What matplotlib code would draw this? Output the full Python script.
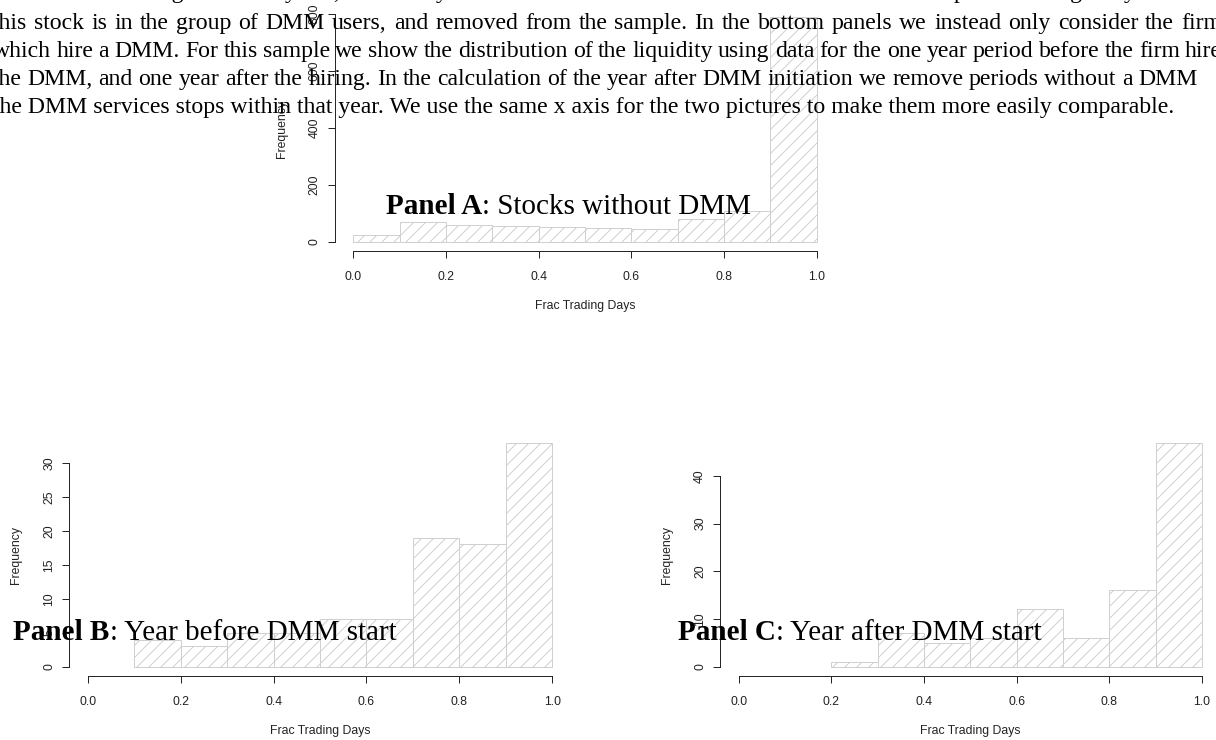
"""
Histograms of the fraction of trading days: stocks without a DMM (top),
and the year before / after a DMM is hired (bottom), on a page of text.
"""
import matplotlib
matplotlib.use("Agg")
import matplotlib.pyplot as plt

W, H, DPI = 1216, 740, 72   # dpi 72 so that 1 pt = 1 px

bin_edges = [0.0, 0.1, 0.2, 0.3, 0.4, 0.5, 0.6, 0.7, 0.8, 0.9, 1.0]
counts_a = [26, 70, 58, 55, 51, 48, 47, 81, 108, 790]
counts_b = [0, 4, 3, 5, 5, 7, 7, 19, 18, 33]
counts_c = [0, 0, 1, 7, 5, 6, 12, 6, 16, 47]

x_ticks = [0.0, 0.2, 0.4, 0.6, 0.8, 1.0]
y_ticks_a = [0, 200, 400, 600, 800]
y_ticks_b = [0, 5, 10, 15, 20, 25, 30]
y_ticks_c = [0, 10, 20, 30, 40]

x_label = "Frac Trading Days"
y_label = "Frequency"

title_a = ("Panel A", ": Stocks without DMM")
title_b = ("Panel B", ": Year before DMM start")
title_c = ("Panel C", ": Year after DMM start")

para_lines = [
    "We use the same figure for all years, and each year we check whether the stock had a DMM at some period during the year. If so,",
    "this stock is in the group of DMM users, and removed from the sample.  In the bottom panels we instead only consider the firm",
    "which hire a DMM. For this sample we show the distribution of the liquidity using data for the one year period before the firm hire",
    "the DMM, and one year after the hiring. In the calculation of the year after DMM initiation we remove periods without a DMM",
    "the DMM services stops within that year. We use the same x axis for the two pictures to make them more easily comparable.",
]

plt.rcParams['font.family'] = ['Liberation Sans', 'DejaVu Sans']
SERIF = ['Liberation Serif', 'DejaVu Serif']

fig = plt.figure(figsize=(W / DPI, H / DPI), dpi=DPI)
renderer = fig.canvas.get_renderer()


def fx(px):
    return px / W


def fy(py):
    return 1 - py / H


def text_width(s, **kw):
    t = fig.text(0, 0, s, **kw)
    w = t.get_window_extent(renderer).width
    t.remove()
    return w


def hist_panel(rect, counts, yticks):
    left, top, right, bottom = rect
    ax = fig.add_axes([fx(left), fy(bottom), (right - left) / W, (bottom - top) / H])
    ax.set_facecolor('none')
    ymax = max(counts)
    ax.set_xlim(-0.04, 1.04)
    ax.set_ylim(-0.04 * ymax, 1.04 * ymax)
    for lo, hi, c in zip(bin_edges[:-1], bin_edges[1:], counts):
        if c > 0:
            ax.bar(lo, c, width=hi - lo, align='edge', facecolor='none',
                   edgecolor='#D0D0D0', hatch='//', linewidth=1.0)
    ax.spines[['top', 'right']].set_visible(False)
    for s in ('left', 'bottom'):
        ax.spines[s].set_color('#262626')
        ax.spines[s].set_linewidth(1.0)
    ax.spines['left'].set_bounds(0, yticks[-1])
    ax.spines['bottom'].set_bounds(0, 1)
    ax.set_xticks(x_ticks)
    ax.set_xticklabels([f"{v:.1f}" for v in x_ticks])
    ax.set_yticks(yticks)
    ax.set_yticklabels([str(v) for v in yticks], rotation=90, va='center')
    ax.tick_params(direction='out', length=7, width=1.0, color='#262626',
                   labelsize=12.3, labelcolor='#222222')
    ax.tick_params(axis='x', pad=13)
    ax.tick_params(axis='y', pad=7)
    # axis titles, placed like R's mtext lines
    fig.text(fx((left + right) / 2), fy(bottom + 55.5), x_label,
             ha='center', va='center', size=12.3, color='#222222')
    fig.text(fx(left - 53), fy((top + bottom) / 2), y_label, rotation=90,
             ha='center', va='center', size=12.3, color='#222222')
    return ax


hist_panel((334.8, 7.8, 835.2, 251.0), counts_a, y_ticks_a)
hist_panel((69.1, 433.6, 570.9, 675.7), counts_b, y_ticks_b)
hist_panel((720.2, 433.6, 1220.5, 675.7), counts_c, y_ticks_c)

# paragraph text: justified lines, last one at natural width
base = 20
para_size = base * 1185 / text_width(para_lines[-1], size=base, family=SERIF)
line_left = -7
line_right = [1224, 1222, 1222, 1198, None]
baselines = [-2.0, 29.3, 57.3, 85.3, 113.3]
for line, right, yb in zip(para_lines, line_right, baselines):
    if right is None:
        fig.text(fx(line_left), fy(yb), line, ha='left', va='baseline',
                 size=para_size, family=SERIF, color='black')
        continue
    words = line.split()
    widths = [text_width(w, size=para_size, family=SERIF) for w in words]
    gap = (right - line_left - sum(widths)) / (len(words) - 1)
    x = line_left
    for w, ww in zip(words, widths):
        fig.text(fx(x), fy(yb), w, ha='left', va='baseline',
                 size=para_size, family=SERIF, color='black')
        x += ww + gap

# panel titles: bold "Panel X" + regular remainder
wb = text_width(title_b[0], size=base, family=SERIF, weight='bold')
wr = text_width(title_b[1], size=base, family=SERIF)
title_size = base * 383 / (wb + wr)
for (bold, rest), (x0, yb) in zip([title_a, title_b, title_c],
                                  [(386, 214.3), (13.3, 640), (677.7, 640)]):
    fig.text(fx(x0), fy(yb), bold, ha='left', va='baseline', size=title_size,
             family=SERIF, weight='bold', color='black')
    w = text_width(bold, size=title_size, family=SERIF, weight='bold')
    fig.text(fx(x0 + w), fy(yb), rest, ha='left', va='baseline',
             size=title_size, family=SERIF, color='black')

fig.savefig("out.png", dpi=DPI)
